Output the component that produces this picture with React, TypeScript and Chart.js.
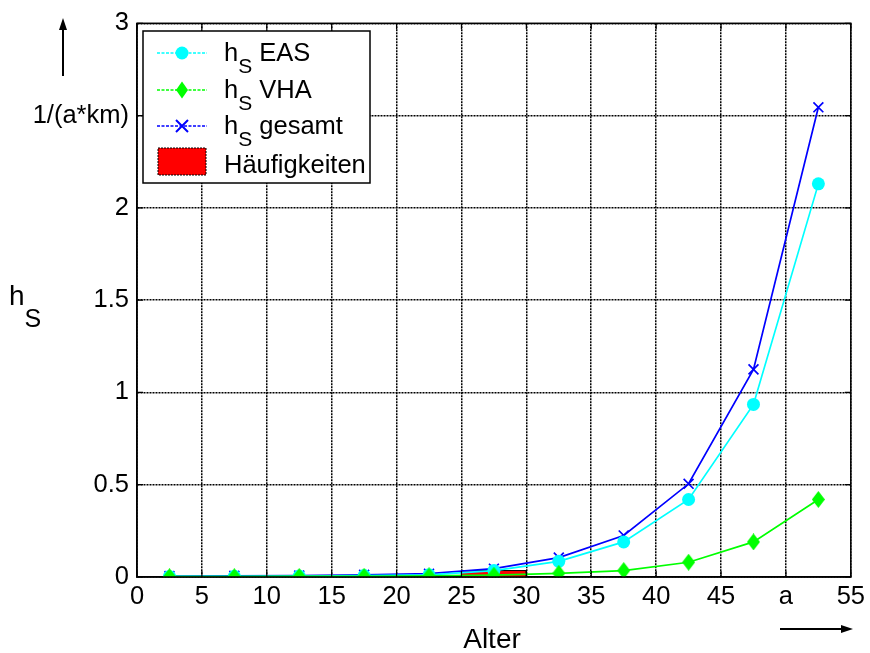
import React, { useEffect, useRef } from "react";
import { Chart, registerables } from "chart.js";

Chart.register(...registerables);

// ---- data ----
const ageMid = [2.5, 7.5, 12.5, 17.5, 22.5, 27.5, 32.5, 37.5, 42.5, 47.5, 52.5];
const hsEAS = [0.003, 0.004, 0.005, 0.008, 0.012, 0.035, 0.085, 0.19, 0.42, 0.935, 2.13];
const hsVHA = [0.002, 0.002, 0.003, 0.004, 0.006, 0.01, 0.02, 0.035, 0.08, 0.19, 0.42];
const hsGesamt = [0.005, 0.006, 0.008, 0.012, 0.018, 0.045, 0.105, 0.225, 0.505, 1.125, 2.545];
const freqBinStart = [25];
const freqBinEnd = [30];
const freqValues = [0.035];
const xTickLabelOverride: Record<number, string> = { 50: "a" };
const yTickLabelOverride: Record<number, string> = { 2.5: "1/(a*km)" };

const FONT = "'Liberation Sans', Arial, Helvetica, sans-serif";

function pts(xs: number[], ys: number[]) {
  return xs.map((x, i) => ({ x, y: ys[i] }));
}

function histPoints() {
  const out: { x: number; y: number }[] = [];
  freqValues.forEach((v, i) => {
    out.push({ x: freqBinStart[i], y: 0 });
    out.push({ x: freqBinStart[i], y: v });
    out.push({ x: freqBinEnd[i], y: v });
    out.push({ x: freqBinEnd[i], y: 0 });
  });
  return out;
}

function makeDiamond(color: string, w: number, h: number) {
  const c = document.createElement("canvas");
  c.width = w;
  c.height = h;
  const g = c.getContext("2d")!;
  g.fillStyle = color;
  g.beginPath();
  g.moveTo(w / 2, 0);
  g.lineTo(w, h / 2);
  g.lineTo(w / 2, h);
  g.lineTo(0, h / 2);
  g.closePath();
  g.fill();
  return c;
}

const decorPlugin = {
  id: "decor",
  afterDraw(chart: any) {
    const ctx: CanvasRenderingContext2D = chart.ctx;
    const a = chart.chartArea;
    const xs = chart.scales.x;
    const ys = chart.scales.y;
    ctx.save();
    // box
    ctx.strokeStyle = "#000";
    ctx.lineWidth = 1.5;
    ctx.setLineDash([]);
    ctx.strokeRect(a.left, a.top, a.right - a.left, a.bottom - a.top);
    // inner tick marks on all sides
    ctx.lineWidth = 1.2;
    const tl = 6;
    for (let v = 0; v <= 55; v += 5) {
      const px = xs.getPixelForValue(v);
      ctx.beginPath();
      ctx.moveTo(px, a.bottom);
      ctx.lineTo(px, a.bottom - tl);
      ctx.moveTo(px, a.top);
      ctx.lineTo(px, a.top + tl);
      ctx.stroke();
    }
    for (let v = 0; v <= 3; v += 0.5) {
      const py = ys.getPixelForValue(v);
      ctx.beginPath();
      ctx.moveTo(a.left, py);
      ctx.lineTo(a.left + tl, py);
      ctx.moveTo(a.right, py);
      ctx.lineTo(a.right - tl, py);
      ctx.stroke();
    }

    // legend
    const lx = 143, ly = 31, lw = 227, lh = 152;
    ctx.fillStyle = "#fff";
    ctx.fillRect(lx, ly, lw, lh);
    ctx.strokeStyle = "#000";
    ctx.lineWidth = 1.5;
    ctx.strokeRect(lx, ly, lw, lh);

    const rows = [
      { y: 53, color: "#00ffff", marker: "circle", label: " EAS" },
      { y: 90, color: "#00ff00", marker: "diamond", label: " VHA" },
      { y: 126, color: "#0000ff", marker: "x", label: " gesamt" },
    ];
    rows.forEach((r) => {
      ctx.strokeStyle = r.color;
      ctx.lineWidth = 1.5;
      ctx.setLineDash([3, 1.5]);
      ctx.beginPath();
      ctx.moveTo(157, r.y);
      ctx.lineTo(207, r.y);
      ctx.stroke();
      ctx.setLineDash([]);
      ctx.fillStyle = r.color;
      if (r.marker === "circle") {
        ctx.beginPath();
        ctx.arc(182, r.y, 6.5, 0, Math.PI * 2);
        ctx.fill();
      } else if (r.marker === "diamond") {
        ctx.beginPath();
        ctx.moveTo(182, r.y - 8.5);
        ctx.lineTo(188, r.y);
        ctx.lineTo(182, r.y + 8.5);
        ctx.lineTo(176, r.y);
        ctx.closePath();
        ctx.fill();
      } else {
        ctx.lineWidth = 2;
        ctx.beginPath();
        ctx.moveTo(176, r.y - 6);
        ctx.lineTo(188, r.y + 6);
        ctx.moveTo(188, r.y - 6);
        ctx.lineTo(176, r.y + 6);
        ctx.stroke();
      }
      ctx.fillStyle = "#000";
      ctx.textBaseline = "alphabetic";
      ctx.textAlign = "left";
      ctx.font = `25.5px ${FONT}`;
      const hb = r.y + 8;
      ctx.fillText("h", 224, hb);
      const hw = ctx.measureText("h").width;
      ctx.font = `21px ${FONT}`;
      ctx.fillText("S", 224 + hw, hb + 12);
      const sw = ctx.measureText("S").width;
      ctx.font = `25.5px ${FONT}`;
      ctx.fillText(r.label, 224 + hw + sw, hb);
    });
    // Häufigkeiten
    ctx.fillStyle = "#ff0000";
    ctx.fillRect(158, 148, 48, 27);
    ctx.strokeStyle = "#000";
    ctx.lineWidth = 1;
    ctx.setLineDash([2, 1]);
    ctx.strokeRect(158, 148, 48, 27);
    ctx.setLineDash([]);
    ctx.fillStyle = "#000";
    ctx.font = `25.5px ${FONT}`;
    ctx.fillText("Häufigkeiten", 224, 173);

    // y title h_S
    ctx.font = `28px ${FONT}`;
    ctx.fillText("h", 9, 305);
    const yhw = ctx.measureText("h").width;
    ctx.font = `25px ${FONT}`;
    ctx.fillText("S", 9 + yhw, 327);

    // x title
    ctx.font = `28px ${FONT}`;
    ctx.textAlign = "center";
    ctx.fillText("Alter", 492, 648);

    // arrows
    ctx.strokeStyle = "#000";
    ctx.fillStyle = "#000";
    ctx.lineWidth = 2;
    ctx.beginPath();
    ctx.moveTo(63, 76);
    ctx.lineTo(63, 28);
    ctx.stroke();
    ctx.beginPath();
    ctx.moveTo(63, 18);
    ctx.lineTo(59, 30);
    ctx.lineTo(67, 30);
    ctx.closePath();
    ctx.fill();
    ctx.beginPath();
    ctx.moveTo(780, 629);
    ctx.lineTo(842, 629);
    ctx.stroke();
    ctx.beginPath();
    ctx.moveTo(853, 629);
    ctx.lineTo(841, 625);
    ctx.lineTo(841, 633);
    ctx.closePath();
    ctx.fill();
    ctx.restore();
  },
};

export default function App() {
  const ref = useRef<HTMLCanvasElement | null>(null);
  useEffect(() => {
    if (!ref.current) return;
    const diamond = makeDiamond("#00ff00", 13, 17);
    const chart = new Chart(ref.current, {
      type: "line",
      data: {
        datasets: [
          {
            label: "hS VHA",
            data: pts(ageMid, hsVHA),
            borderColor: "#00ff00",
            backgroundColor: "#00ff00",
            borderWidth: 1.7,
            pointStyle: diamond,
            pointRadius: 8,
            pointBorderWidth: 0,
            order: 1,
          },
          {
            label: "hS EAS",
            data: pts(ageMid, hsEAS),
            borderColor: "#00ffff",
            backgroundColor: "#00ffff",
            borderWidth: 1.7,
            pointStyle: "circle",
            pointRadius: 6.5,
            pointBorderWidth: 0,
            order: 2,
          },
          {
            label: "hS gesamt",
            data: pts(ageMid, hsGesamt),
            borderColor: "#0000ff",
            backgroundColor: "#0000ff",
            borderWidth: 1.7,
            pointStyle: "crossRot",
            pointRadius: 7,
            pointBorderWidth: 1.7,
            order: 3,
          },
          {
            label: "Häufigkeiten",
            data: histPoints(),
            borderColor: "#000",
            backgroundColor: "#ff0000",
            borderWidth: 1,
            pointRadius: 0,
            fill: "origin",
            tension: 0,
            order: 4,
          } as any,
        ],
      },
      options: {
        animation: false,
        responsive: false,
        maintainAspectRatio: false,
        layout: { padding: { top: 23, right: 17, left: 0, bottom: 0 } },
        plugins: { legend: { display: false }, tooltip: { enabled: false } },
        scales: {
          x: {
            type: "linear",
            min: 0,
            max: 55,
            ticks: {
              stepSize: 5,
              color: "#000",
              font: { size: 25.5, family: FONT },
              padding: 5,
              maxRotation: 0,
              autoSkip: false,
              callback: (v: any) => xTickLabelOverride[v] ?? String(v),
            },
            grid: { color: "#000", lineWidth: 1.5, drawTicks: false },
            border: { display: true, color: "#000", width: 1.5, dash: [2, 1] },
            afterFit: (s: any) => {
              s.height = 76;
            },
          },
          y: {
            type: "linear",
            min: 0,
            max: 3,
            ticks: {
              stepSize: 0.5,
              color: "#000",
              font: { size: 25.5, family: FONT },
              padding: 8,
              callback: (v: any) => yTickLabelOverride[v] ?? String(v),
            },
            grid: { color: "#000", lineWidth: 1.5, drawTicks: false },
            border: { display: true, color: "#000", width: 1.5, dash: [2, 1] },
            afterFit: (s: any) => {
              s.width = 137;
            },
          },
        },
      },
      plugins: [decorPlugin],
    } as any);
    return () => chart.destroy();
  }, []);
  return (
    <div style={{ position: "absolute", left: 0, top: 0, width: 870, height: 653, background: "#fff" }}>
      <canvas ref={ref} width={870} height={653} style={{ width: 870, height: 653, display: "block" }} />
    </div>
  );
}
